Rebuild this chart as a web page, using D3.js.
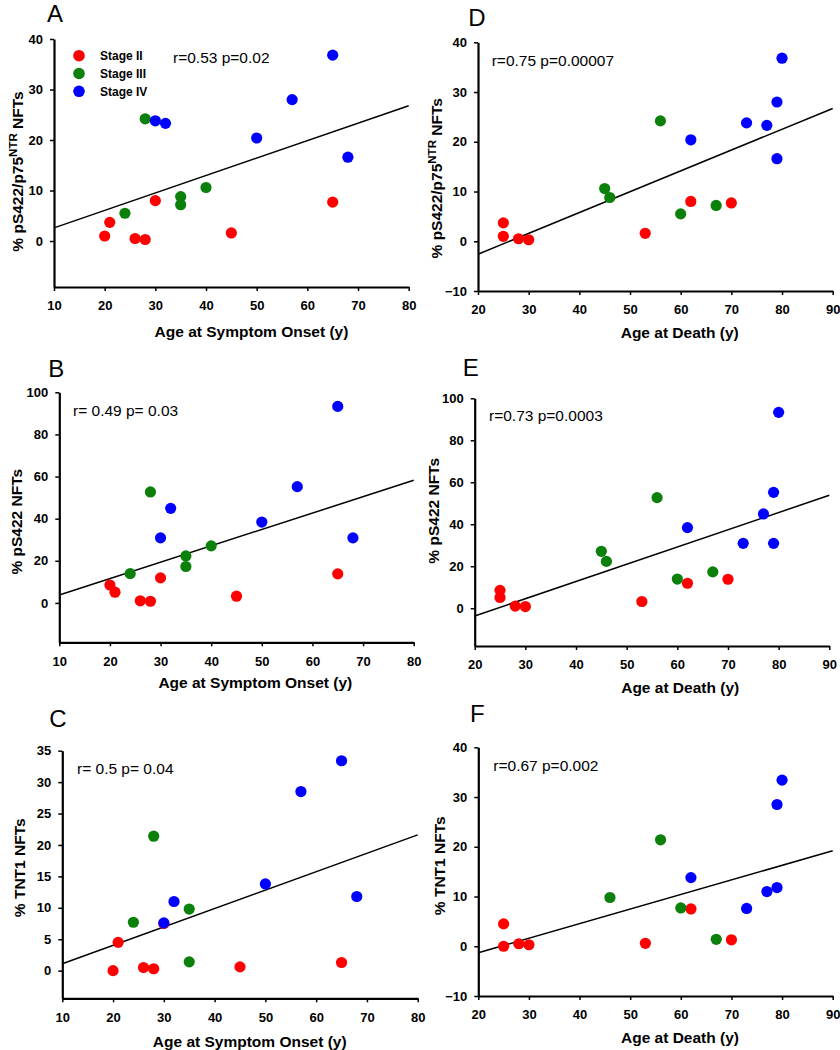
<!DOCTYPE html>
<html>
<head>
<meta charset="utf-8">
<script src="https://cdn.jsdelivr.net/npm/d3@7"></script>
<style>
  body { margin: 0; background: #fff; }
  svg { display: block; font-family: "Liberation Sans", Arial, sans-serif; }
</style>
</head>
<body>
<script>
// stages
var stageNames = ["Stage II", "Stage III", "Stage IV"];
var stageColors = ["#ff0000", "#0b800b", "#0000ff"];

// one entry per subject (same order in every array)
var subjectStage = [0, 0, 0, 0, 0, 0, 0, 1, 1, 1, 1, 1, 2, 2, 2, 2, 2, 2];
var ageOnset = [20, 21, 26, 28, 30, 45, 65, 24, 28, 35, 35, 40, 30, 32, 50, 57, 65, 68];
var ageDeath = [25, 25, 28, 30, 62, 53, 70, 60, 56, 46, 67, 45, 73, 77, 62, 79, 80, 79];
var pctP75 = [1.0, 3.7, 0.5, 0.3, 8.0, 1.6, 7.7, 5.5, 24.2, 8.8, 7.2, 10.6, 23.8, 23.3, 20.4, 28.0, 36.8, 16.6];
var pctPS422 = [8.5, 5.1, 1.0, 0.8, 11.9, 3.2, 13.8, 13.9, 52.7, 22.3, 17.3, 27.1, 30.9, 44.9, 38.4, 55.2, 93.3, 30.9];
var pctTNT1 = [0.0, 4.5, 0.5, 0.3, 7.5, 0.6, 1.3, 7.7, 21.4, 9.8, 1.4, null, 7.6, 11.0, 13.8, 28.5, 33.4, 11.8];

// tick values
var onsetTicks = [10, 20, 30, 40, 50, 60, 70, 80];
var deathTicks = [20, 30, 40, 50, 60, 70, 80, 90];
var p75TicksOnset = [0, 10, 20, 30, 40];
var p75TicksDeath = [-10, 0, 10, 20, 30, 40];
var ps422Ticks = [0, 20, 40, 60, 80, 100];
var tntTicksOnset = [0, 5, 10, 15, 20, 25, 30, 35];
var tntTicksDeath = [-10, 0, 10, 20, 30, 40];

// fitted lines, value at left and right end of x axis
var fitA = [2.6, 26.8];
var fitB = [3.8, 58.2];
var fitC = [1.1, 21.6];
var fitD = [-2.6, 26.7];
var fitE = [-3.7, 53.8];
var fitF = [-1.3, 19.2];

var statLabels = ["r=0.53 p=0.02", "r= 0.49 p= 0.03", "r= 0.5 p= 0.04",
                  "r=0.75 p=0.00007", "r=0.73 p=0.0003", "r=0.67 p=0.002"];

var onsetTitle = "Age at Symptom Onset (y)";
var deathTitle = "Age at Death (y)";

// panel layout
var panels = [
  {letter: "A", xs: ageOnset, ys: pctP75, xt: onsetTicks, yt: p75TicksOnset, fit: fitA, stat: statLabels[0],
   x0: 54, x1: 408.7, yb: 287, yt0: 39, ymin: -9.1, ymax: 40, lx: 47, ly: 22, sx: 173, sy: 63,
   tx: 251.5, ty: 337, ycx: 23, ycy: 171.5, xtitle: onsetTitle, ytitle: "p75", legend: true},
  {letter: "B", xs: ageOnset, ys: pctPS422, xt: onsetTicks, yt: ps422Ticks, fit: fitB, stat: statLabels[1],
   x0: 59.3, x1: 413.7, yb: 642.3, yt0: 392.3, ymin: -18.7, ymax: 100, lx: 48.3, ly: 377.3, sx: 73, sy: 415.7,
   tx: 255.3, ty: 688, ycx: 22, ycy: 521.7, xtitle: onsetTitle, ytitle: "% pS422 NFTs"},
  {letter: "C", xs: ageOnset, ys: pctTNT1, xt: onsetTicks, yt: tntTicksOnset, fit: fitC, stat: statLabels[2],
   x0: 62.3, x1: 417.7, yb: 998.3, yt0: 750.7, ymin: -4.4, ymax: 35, lx: 49.3, ly: 726.7, sx: 77, sy: 774,
   tx: 249.7, ty: 1046.5, ycx: 25, ycy: 867.8, xtitle: onsetTitle, ytitle: "% TNT1 NFTs"},
  {letter: "D", xs: ageDeath, ys: pctP75, xt: deathTicks, yt: p75TicksDeath, fit: fitD, stat: statLabels[3],
   x0: 478, x1: 832.7, yb: 291, yt0: 42.3, ymin: -10, ymax: 40, lx: 468.3, ly: 26, sx: 491.7, sy: 65.7,
   tx: 679.7, ty: 337.7, ycx: 441.7, ycy: 178.3, xtitle: deathTitle, ytitle: "p75"},
  {letter: "E", xs: ageDeath, ys: pctPS422, xt: deathTicks, yt: ps422Ticks, fit: fitE, stat: statLabels[4],
   x0: 474.7, x1: 829.3, yb: 646, yt0: 398.3, ymin: -18, ymax: 100, lx: 462.7, ly: 375.7, sx: 489, sy: 421,
   tx: 680.2, ty: 693, ycx: 439, ycy: 510.8, xtitle: deathTitle, ytitle: "% pS422 NFTs"},
  {letter: "F", xs: ageDeath, ys: pctTNT1, xt: deathTicks, yt: tntTicksDeath, fit: fitF, stat: statLabels[5],
   x0: 478.3, x1: 832.7, yb: 996, yt0: 747.3, ymin: -10, ymax: 40, lx: 470, ly: 721.7, sx: 493.3, sy: 771,
   tx: 680, ty: 1043.3, ycx: 445, ycy: 865.8, xtitle: deathTitle, ytitle: "% TNT1 NFTs"}
];

var svg = d3.select("body").append("svg")
    .attr("width", 840)
    .attr("height", 1050);

panels.forEach(function(p){
    var xscale = d3.scaleLinear().domain([p.xt[0], p.xt[p.xt.length - 1]]).range([p.x0, p.x1]);
    var yscale = d3.scaleLinear().domain([p.ymin, p.ymax]).range([p.yb, p.yt0]);

    var g = svg.append("g");

    // panel letter
    g.append("text")
        .attr("x", p.lx).attr("y", p.ly)
        .attr("font-size", "24px")
        .text(p.letter);

    // axes
    var xAxis = g.append("g")
        .attr("transform", "translate(0," + p.yb + ")")
        .call(d3.axisBottom(xscale).tickValues(p.xt).tickSize(4).tickSizeOuter(0).tickPadding(10));
    var yAxis = g.append("g")
        .attr("transform", "translate(" + p.x0 + ",0)")
        .call(d3.axisLeft(yscale).tickValues(p.yt).tickSize(4).tickSizeOuter(0).tickPadding(7));

    [xAxis, yAxis].forEach(function(ax){
        ax.select(".domain").attr("stroke", "#000").attr("stroke-width", 2.2);
        ax.selectAll(".tick line").attr("stroke", "#000").attr("stroke-width", 1.5);
        ax.selectAll(".tick text")
            .attr("fill", "#000")
            .attr("font-family", "Liberation Sans, Arial, sans-serif")
            .attr("font-weight", "bold")
            .attr("font-size", "13px");
    });

    // axis titles
    g.append("text")
        .attr("x", p.tx).attr("y", p.ty)
        .attr("text-anchor", "middle")
        .attr("font-weight", "bold")
        .attr("font-size", "15.5px")
        .text(p.xtitle);

    var yt = g.append("text")
        .attr("transform", "translate(" + p.ycx + "," + p.ycy + ") rotate(-90)")
        .attr("text-anchor", "middle")
        .attr("font-weight", "bold")
        .attr("font-size", "15.5px");
    if (p.ytitle == "p75") {
        yt.append("tspan").text("% pS422/p75");
        yt.append("tspan").attr("dy", -6).attr("font-size", "11.5px").text("NTR");
        yt.append("tspan").attr("dy", 6).text(" NFTs");
    } else {
        yt.text(p.ytitle);
    }

    // fitted line
    g.append("line")
        .attr("x1", xscale(p.xt[0])).attr("y1", yscale(p.fit[0]))
        .attr("x2", xscale(p.xt[p.xt.length - 1])).attr("y2", yscale(p.fit[1]))
        .attr("stroke", "#000")
        .attr("stroke-width", 1.5);

    // r / p text
    g.append("text")
        .attr("x", p.sx).attr("y", p.sy)
        .attr("font-size", "15.5px")
        .text(p.stat);

    // points
    var pts = [];
    p.xs.forEach(function(x, i){
        if (p.ys[i] != null) {
            pts.push({x: x, y: p.ys[i], s: subjectStage[i]});
        }
    });
    g.selectAll("circle.dot")
        .data(pts)
        .enter()
        .append("circle")
        .attr("class", "dot")
        .attr("cx", function(d) { return xscale(d.x); })
        .attr("cy", function(d) { return yscale(d.y); })
        .attr("r", 5.6)
        .attr("fill", function(d) { return stageColors[d.s]; });

    // legend
    if (p.legend) {
        var lg = g.selectAll("g.leg")
            .data(stageNames)
            .enter()
            .append("g")
            .attr("class", "leg")
            .attr("transform", function(d, i) { return "translate(79," + (55.7 + i * 17.8) + ")"; });
        lg.append("circle")
            .attr("r", 5.8)
            .attr("fill", function(d, i) { return stageColors[i]; });
        lg.append("text")
            .attr("x", 21).attr("y", 4.3)
            .attr("font-weight", "bold")
            .attr("font-size", "12px")
            .text(function(d) { return d; });
    }
});
</script>
</body>
</html>
